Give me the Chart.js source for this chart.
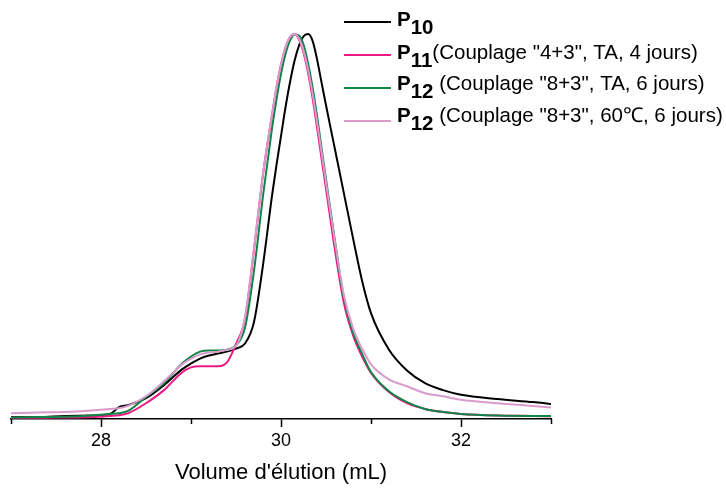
<!DOCTYPE html>
<html>
<head>
<meta charset="utf-8">
<script src="https://cdn.jsdelivr.net/npm/chart.js@4.4.1/dist/chart.umd.min.js"></script>
<style>
  html, body { margin: 0; padding: 0; background: #fff; }
  canvas { display: block; }
</style>
</head>
<body>
<canvas id="secChart" width="726" height="489"></canvas>
<script>
// elution volume (mL), shared by every trace
const volume = [27.0, 27.3, 27.6, 27.9, 28.1, 28.2, 28.3, 28.5, 28.7, 28.9,
  29.0, 29.1, 29.2, 29.3, 29.4, 29.5, 29.6, 29.7, 29.8, 29.9,
  29.95, 30.0, 30.05, 30.1, 30.15, 30.2, 30.25, 30.3, 30.35, 30.4,
  30.45, 30.5, 30.6, 30.7, 30.8, 30.9, 31.0, 31.2, 31.4, 31.6,
  31.8, 32.0, 32.4, 32.8, 33.0];

// normalised detector signal
const p10 = [0.5, 0.5, 0.8, 0.9, 1.3, 3.1, 3.6, 5.4, 8.8, 12.9,
  14.4, 15.7, 16.5, 17.0, 17.5, 18.3, 19.6, 25.2, 40.0, 58.0,
  66.0, 73.5, 81.0, 87.5, 93.0, 97.0, 99.4, 100, 98.3, 93.5,
  87.5, 81.5, 70.0, 58.5, 47.0, 36.0, 27.5, 18.0, 12.6, 9.3,
  7.5, 6.3, 5.2, 4.4, 3.9];
const p11 = [0.3, 0.3, 0.4, 0.5, 0.8, 1.0, 1.5, 4.1, 7.5, 12.1,
  13.4, 13.7, 13.7, 13.7, 14.7, 19.5, 26.0, 44.0, 63.5, 79.0,
  86.1, 92.1, 96.5, 99.2, 100, 98.6, 95.2, 90.0, 83.5, 75.8,
  67.8, 59.8, 43.8, 30.0, 21.8, 16.3, 12.0, 7.0, 4.1, 2.6,
  1.8, 1.3, 0.9, 0.8, 0.7];
const p12 = [0.4, 0.5, 0.6, 0.9, 1.3, 1.5, 2.1, 5.7, 9.3, 14.4,
  16.2, 17.5, 17.8, 17.8, 18.0, 19.1, 23.7, 38.5, 58.0, 75.5,
  83.0, 89.6, 94.8, 98.3, 99.9, 99.6, 97.3, 92.5, 86.3, 78.8,
  70.5, 62.3, 46.2, 31.3, 22.5, 17.0, 12.2, 7.2, 4.4, 2.6,
  1.8, 1.3, 0.9, 0.8, 0.8];
const p12hot = [1.5, 1.7, 1.8, 2.2, 2.6, 2.8, 3.4, 5.9, 9.8, 14.2,
  15.7, 16.8, 17.3, 17.5, 18.0, 19.0, 26.5, 44.3, 63.7, 79.0,
  86.1, 92.1, 96.5, 99.2, 100, 98.8, 95.7, 90.9, 84.6, 77.2,
  69.5, 61.5, 45.9, 32.0, 23.6, 18.3, 14.2, 10.3, 8.5, 6.7,
  5.9, 5.0, 4.1, 3.4, 3.0];

// legend: polymer index (subscript) + conditions
const labelIds = ['10', '11', '12', '12'];
const labelNotes = ['', '(Couplage "4+3", TA, 4 jours)', ' (Couplage "8+3", TA, 6 jours)', ' (Couplage "8+3", 60\u2103, 6 jours)'];
const traceColors = ['#000000', '#ee1a83', '#138447', '#d99bcb'];

const traces = [p10, p11, p12, p12hot];

function toPoints(values) {
  return values.map((v, i) => ({ x: volume[i], y: v }));
}

const minorTicks = {
  id: 'minorTicks',
  afterDraw(chart) {
    const xs = chart.scales.x;
    const ctx = chart.ctx;
    ctx.save();
    ctx.strokeStyle = '#000';
    ctx.lineWidth = 1.5;
    for (let v = 27; v <= 33; v += 2) {
      const px = Math.round(xs.getPixelForValue(v)) + 0.5;
      ctx.beginPath();
      ctx.moveTo(px, xs.top);
      ctx.lineTo(px, xs.top + 5);
      ctx.stroke();
    }
    ctx.restore();
  }
};

const sideLegend = {
  id: 'sideLegend',
  afterDraw(chart) {
    const ctx = chart.ctx;
    const lineY = [22, 55, 88, 121];
    const baseY = [26, 59, 90, 122];
    ctx.save();
    ctx.textBaseline = 'alphabetic';
    ctx.fillStyle = '#000';
    labelIds.forEach((id, i) => {
      ctx.strokeStyle = traceColors[i];
      ctx.lineWidth = 2;
      ctx.beginPath();
      ctx.moveTo(344, lineY[i]);
      ctx.lineTo(391, lineY[i]);
      ctx.stroke();

      let x = 397;
      ctx.font = 'bold 20.5px "Liberation Sans", Arial, sans-serif';
      ctx.fillText('P', x, baseY[i]);
      x += ctx.measureText('P').width;
      ctx.fillText(id, x, baseY[i] + 8);
      x += ctx.measureText(id).width;
      ctx.font = '20.5px "Liberation Sans", Arial, sans-serif';
      ctx.fillText(labelNotes[i], x, baseY[i]);
    });
    ctx.restore();
  }
};

Chart.defaults.font.family = '"Liberation Sans", Arial, sans-serif';
Chart.defaults.color = '#000';

const secChart = new Chart(document.getElementById('secChart'), {
  type: 'line',
  data: {
    datasets: traces.map((vals, i) => ({
      label: 'P' + labelIds[i] + labelNotes[i],
      data: toPoints(vals),
      borderColor: traceColors[i],
      borderWidth: 2,
      pointRadius: 0,
      fill: false,
      cubicInterpolationMode: 'monotone',
      order: [3, 2, 1, 0][i]
    }))
  },
  options: {
    responsive: false,
    animation: false,
    layout: { padding: { left: 11, right: 175, top: 11, bottom: 0 } },
    plugins: {
      legend: { display: false },
      tooltip: { enabled: false }
    },
    scales: {
      x: {
        type: 'linear',
        min: 27,
        max: 33,
        border: { display: true, color: '#000', width: 1.5 },
        grid: {
          drawOnChartArea: false,
          drawTicks: true,
          tickLength: 8,
          tickWidth: 1.5,
          tickColor: (c) => (c.tick && c.tick.value % 2 === 0) ? '#000' : 'rgba(0,0,0,0)'
        },
        ticks: {
          stepSize: 1,
          padding: 3,
          maxRotation: 0,
          autoSkip: false,
          font: { size: 18 },
          callback: (v) => (v % 2 === 0 ? String(v) : '')
        },
        title: {
          display: true,
          text: "Volume d'élution (mL)",
          font: { size: 22 },
          padding: { top: 5, bottom: 3 }
        }
      },
      y: {
        display: false,
        min: 0,
        max: 106
      }
    }
  },
  plugins: [minorTicks, sideLegend]
});
</script>
</body>
</html>
